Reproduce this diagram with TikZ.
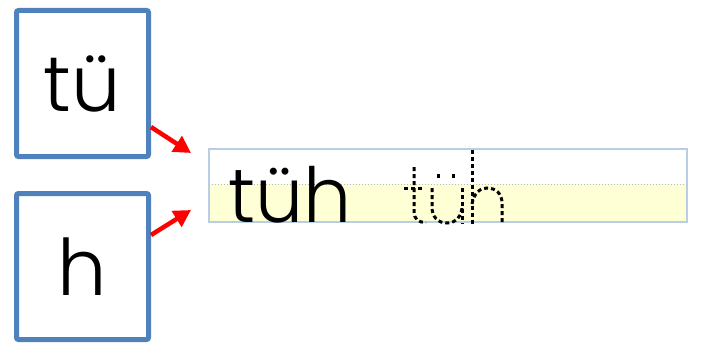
\documentclass[tikz,border=0pt]{standalone}
\usepackage{fontspec}
\newfontfamily\schoolfont{Poppins Light}
\usetikzlibrary{arrows.meta,positioning}
\definecolor{boxblue}{RGB}{79,129,189}
\definecolor{bandblue}{RGB}{185,205,228}
\definecolor{bandyellow}{RGB}{255,255,213}
\definecolor{guidegray}{RGB}{170,188,210}
\tikzset{
	letterbox/.style={draw=boxblue, line width=5pt, rounded corners=2pt, minimum width=132pt, minimum height=146pt, inner sep=0pt, font=\schoolfont\fontsize{78}{78}\selectfont},
	redarrow/.style={draw=red, line width=4.5pt, -{Triangle[length=17pt,width=18pt]}},
	trace/.style={line width=3pt, dash pattern=on 4pt off 3pt},
}
\begin{document}
\begin{tikzpicture}[x=1pt, y=-1pt]
			\useasboundingbox (0,0) rectangle (708,345);
			\node[letterbox] (tu) at (82.5,83.5) {tü};
			\node[letterbox] (h) at (82.5,266.5) {h};
			
			\node[minimum width=478pt, minimum height=73pt, inner sep=0pt, outer sep=0pt] (band) at (448,185.5) {};
			\coordinate (guide) at (448,184);
			\fill[bandyellow] (band.west |- guide) rectangle (band.south east);
			\draw[guidegray, dotted, line width=1pt] (band.west |- guide) -- (band.east |- guide);
			\draw[bandblue, line width=2pt] (band.south west) rectangle (band.north east);
			\node[anchor=base west, inner sep=0pt, font=\schoolfont\fontsize{76}{76}\selectfont] (word) at (228,222) {tüh};
			
			\coordinate (tip1) at (191,153);
			\coordinate (tip2) at (191,210);
			\draw[redarrow] ([yshift=32pt]tu.south east) -- (tip1);
			\draw[redarrow] ([yshift=-44pt]h.north east) -- (tip2);
			
			\draw[trace] (414,167) -- (414,211) .. controls (414,219) and (418,223) .. (426,222);
			\draw[trace] (404,188) -- (423,188);
			\draw[trace] (432,188) -- (432,207) .. controls (432,217) and (438,223) .. (447,223) .. controls (456,223) and (462,216) .. (462,206);
			\draw[trace] (462,188) -- (462,224);
			\draw[trace] (438,174) -- (438,180);
			\draw[trace] (453,174) -- (453,180);
			\draw[trace] (472,150) -- (472,224);
			\draw[trace] (472,204) .. controls (474,193) and (480,188) .. (487,188) .. controls (496,188) and (502,194) .. (502,203) -- (502,224);
\end{tikzpicture}
\end{document}
